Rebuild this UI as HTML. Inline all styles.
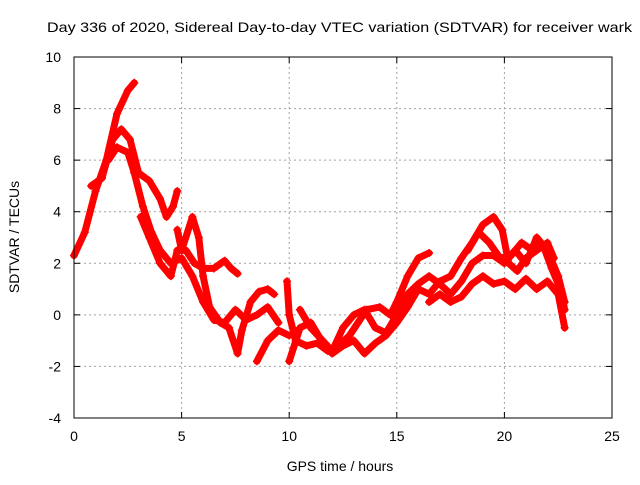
<!DOCTYPE html>
<html><head><meta charset="utf-8"><style>
body{margin:0;background:#fff;}
svg text{font-family:"Liberation Sans",sans-serif;font-size:14px;fill:#000;}
</style></head><body>
<svg id="chart" width="640" height="480">
<rect width="640" height="480" fill="#fff"/>
<text x="339.5" y="32" text-anchor="middle" textLength="585" lengthAdjust="spacingAndGlyphs">Day 336 of 2020, Sidereal Day-to-day VTEC variation (SDTVAR) for receiver wark</text>
<g id="grid"></g>
<g id="axes"></g>
<g id="series"></g>
<rect x="74" y="57" width="538" height="361" fill="none" stroke="#000" stroke-width="1"/>
<text x="340" y="471" text-anchor="middle">GPS time / hours</text>
<text transform="translate(19,237) rotate(-90)" text-anchor="middle">SDTVAR / TECUs</text>
</svg>
<script>
const xTicks=[0,5,10,15,20,25];
const yTicks=[-4,-2,0,2,4,6,8,10];
const track1=[[0,2.3],[0.5,3.2],[1,4.8],[1.5,6.0],[2,7.8],[2.5,8.7],[2.8,9.0]];
const track2=[[0.8,5.0],[1.3,5.3],[1.8,6.8],[2.2,7.2],[2.6,6.8],[3,5.5],[3.5,5.2],[4,4.5],[4.3,3.8],[4.6,4.2],[4.8,4.8]];
const track3=[[1.6,6.0],[2,6.5],[2.5,6.3],[2.8,5.5],[3.2,4.2],[3.6,3.2],[4,2.5],[4.5,2.0],[5,2.2],[5.5,1.5],[6,0.5],[6.5,-0.2],[7,-0.3],[7.5,0.2],[8,-0.2],[8.5,0],[9,0.3],[9.5,-0.3]];
const track4=[[3.1,3.8],[3.5,3.0],[4,2.0],[4.5,1.5],[4.8,2.5],[5.2,2.5],[5.6,2.0],[6,1.8],[6.5,1.8],[7,2.1],[7.3,1.8],[7.6,1.6]];
const track5=[[4.8,3.3],[5,2.5],[5.5,3.8],[5.8,3.0],[6.0,1.5],[6.3,0.3],[6.8,-0.3],[7.2,-0.5],[7.6,-1.5],[7.8,-0.6],[8.2,0.5],[8.6,0.9],[9,1.0],[9.3,0.8]];
const track6=[[8.5,-1.8],[9,-1.0],[9.5,-0.6],[10,-0.8]];
const track7=[[9.9,1.3],[10,0],[10.3,-1.0],[10.8,-1.2],[11.3,-1.1],[11.8,-1.4],[12.3,-1.2],[12.8,-0.8],[13.2,-0.3],[13.6,0.2],[14.2,0.3],[14.7,0],[15,0.5],[15.5,1.5],[16,2.2],[16.5,2.4]];
const track8=[[10,-1.8],[10.5,-0.5],[11,-0.3],[11.5,-1.0],[12,-1.5],[12.5,-1.2],[13,-1.0],[13.5,-1.5],[14,-1.1],[14.5,-0.8],[15,-0.3],[15.5,0.3],[16,1.0],[16.5,0.8],[17,1.3],[17.5,1.5],[18,2.2],[18.5,2.8],[19,3.5],[19.5,3.8],[19.9,3.3],[20.2,2.0],[20.6,1.7],[21,2.2],[21.5,2.5],[22,2.8],[22.3,2.2]];
const track9=[[10.5,0.2],[11,-0.5],[12,-1.4],[12.5,-0.5],[13,0.0],[13.5,0.2],[14,-0.5],[14.5,-0.7],[15,0],[15.5,0.8],[16,1.2],[16.5,1.5],[17,1.2],[17.5,0.8],[18,1.3],[18.5,2.0],[19,2.3],[19.5,2.3],[20,2.0],[20.5,2.5],[21,2.0],[21.5,3.0],[22,2.5],[22.5,1.5],[22.8,0.5]];
const track10=[[16.5,0.5],[17,0.8],[17.5,0.5],[18,0.7],[18.5,1.2],[19,1.5],[19.5,1.2],[20,1.3],[20.5,1.0],[21,1.4],[21.5,1.0],[22,1.3],[22.5,0.8],[22.8,-0.5]];
const track11=[[18.3,2.5],[18.8,3.2],[19.3,2.8],[19.8,2.2],[20.3,2.3],[20.8,2.8],[21.3,2.5],[21.8,2.7],[22.2,1.8],[22.6,1.0],[22.8,0.2]];
const tracks=[track1,track2,track3,track4,track5,track6,track7,track8,track9,track10,track11];

const X0=74,X1=612,Y0=418,Y1=57;
function sx(v){return X0+(v-0)/(25-0)*(X1-X0);}
function sy(v){return Y0-(v+4)/(10+4)*(Y0-Y1);}
const NS="http://www.w3.org/2000/svg";
function mk(t,a,p){const e=document.createElementNS(NS,t);for(const k in a)e.setAttribute(k,a[k]);p.appendChild(e);return e;}
const grid=document.getElementById('grid'),axes=document.getElementById('axes'),ser=document.getElementById('series');
xTicks.forEach(v=>{
  const x=sx(v);
  if(v>0&&v<25){const g=mk('line',{x1:x,x2:x,y1:Y1,y2:Y0,stroke:'#a0a0a0','stroke-dasharray':'2,3'},grid);
  
  }
  mk('line',{x1:x,x2:x,y1:Y0,y2:Y0-6,stroke:'#000'},axes);
  mk('line',{x1:x,x2:x,y1:Y1,y2:Y1+6,stroke:'#000'},axes);
  const t=mk('text',{x:x,y:Y0+23,'text-anchor':'middle'},axes);t.textContent=v;
  
  
});
yTicks.forEach(v=>{
  const y=sy(v);
  if(v>-4&&v<10){const g=mk('line',{x1:X0,x2:X1,y1:y,y2:y,stroke:'#a0a0a0','stroke-dasharray':'2,3'},grid);
  
  }
  mk('line',{x1:X0,x2:X0+6,y1:y,y2:y,stroke:'#000'},axes);
  mk('line',{x1:X1,x2:X1-6,y1:y,y2:y,stroke:'#000'},axes);
  const t=mk('text',{x:X0-13,y:y+5,'text-anchor':'end'},axes);t.textContent=v;
  
  
});
tracks.forEach((tr,i)=>{
  const d=tr.map((p,j)=>(j?'L':'M')+sx(p[0]).toFixed(1)+','+sy(p[1]).toFixed(1)).join(' ');
  const pth=mk('path',{d:d,fill:'none',stroke:'#ff0000','stroke-width':7,'stroke-linejoin':'round','stroke-linecap':'round'},ser);
  
  
  tr.forEach(p=>{
    const x=sx(p[0]),y=sy(p[1]);
    const m=mk('path',{d:`M${x-4},${y}H${x+4}M${x},${y-4}V${y+4}`,stroke:'#ff0000','stroke-width':1.5},ser);
    
    
  });
});
</script>
</body></html>
